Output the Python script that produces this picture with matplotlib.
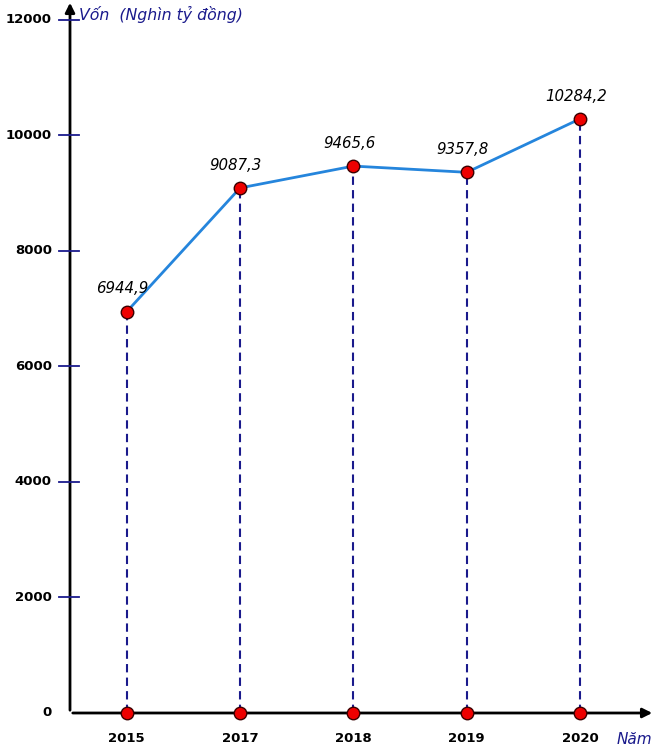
import matplotlib
matplotlib.use("Agg")
import matplotlib.pyplot as plt

years = ["2015", "2017", "2018", "2019", "2020"]
values = [6944.9, 9087.3, 9465.6, 9357.8, 10284.2]
labels = ["6944,9", "9087,3", "9465,6", "9357,8", "10284,2"]
yticks = [0, 2000, 4000, 6000, 8000, 10000, 12000]

plt.rcParams['font.family'] = ['DejaVu Sans']
fig = plt.figure(figsize=(6.56, 7.55), dpi=100)
ax = fig.add_axes([70/656, 42/755, (655-70)/656, (755-42)/755])
x = list(range(1, len(years) + 1))
ax.set_xlim(0.5, 5.66)
ax.set_ylim(0, 12340)
for s in ax.spines.values():
    s.set_visible(False)
ax.set_xticks([]); ax.set_yticks([])

# axes with arrows
ax.annotate("", xy=(1.0, 0), xycoords="axes fraction", xytext=(0, 0),
            arrowprops=dict(arrowstyle="-|>", color="black", lw=2, mutation_scale=14), annotation_clip=False)
ax.annotate("", xy=(0, 1.0), xycoords="axes fraction", xytext=(0, 0),
            arrowprops=dict(arrowstyle="-|>", color="black", lw=2, mutation_scale=14), annotation_clip=False)

# y ticks
for t in yticks:
    if t > 0:
        ax.plot([0.5 - 0.1, 0.5 + 0.08], [t, t], color="#1a1a8c", lw=1.3, clip_on=False, zorder=3)
    ax.text(0.5 - 0.16, t, str(t), ha="right", va="center", fontsize=9.5, fontweight="bold", color="black")

# dashed droplines
for xi, v in zip(x, values):
    ax.plot([xi, xi], [0, v], color="#1a1a8c", lw=1.5, ls=(0, (4, 2.5)), zorder=2)

ax.plot(x, values, color="#2585dc", lw=2, zorder=3)
ax.plot(x, values, ls="none", marker="o", ms=9, mfc="#ee0000", mec="#3a0000", mew=1, zorder=4)
ax.plot(x, [0]*len(x), ls="none", marker="o", ms=9, mfc="#ee0000", mec="#3a0000", mew=1, zorder=4, clip_on=False)

for xi, v, lb in zip(x, values, labels):
    ax.annotate(lb, (xi, v), xytext=(-3, 11), textcoords="offset points", ha="center", va="bottom",
                fontsize=10.8, fontstyle="italic", color="black")

for xi, yr in zip(x, years):
    ax.annotate(yr, (xi, 0), xytext=(0, -18), textcoords="offset points", ha="center", va="center",
                fontsize=9.5, fontweight="bold", color="black", annotation_clip=False)

ax.text(80/656 - 70/656, 1 - 14/713, "Vốn  (Nghìn tỷ đồng)", transform=ax.transAxes, ha="left", va="center",
        fontsize=11.3, fontstyle="italic", color="#1a1a8c")
fig.text(617/656, 1 - 740/755, "Năm", ha="left", va="center", fontsize=11, fontstyle="italic", color="#1a1a8c")

fig.savefig("out.png", dpi=100)
